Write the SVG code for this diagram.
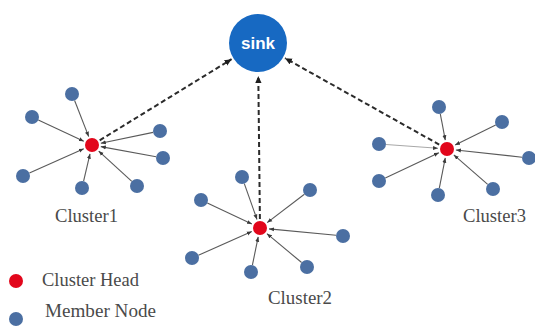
<svg xmlns="http://www.w3.org/2000/svg" width="535" height="329" viewBox="0 0 535 329">
<defs>
<style>
.member{fill:#4b6fa2}
.head{fill:#e2061b}
.sink{fill:#1769c2}
.lbl{font-family:"Liberation Serif","Times New Roman",serif;font-size:18px;fill:#4a4a4a}
.sinklbl{font-family:"Liberation Sans",Arial,sans-serif;font-size:17px;font-weight:bold;fill:#ffffff}
.link{stroke:#5a5a5a;stroke-width:1.1;fill:none;marker-end:url(#arr)}
.uplink{stroke:#2b2b2b;stroke-width:2;stroke-dasharray:5 3;fill:none;marker-end:url(#arrD)}
</style>
<marker id="arr" viewBox="0 0 10 10" refX="10" refY="5" markerWidth="5" markerHeight="5" markerUnits="userSpaceOnUse" orient="auto">
<path d="M0,1 L10,5 L0,9 z" fill="#3a3a3a"/>
</marker>
<marker id="arrD" viewBox="0 0 10 10" refX="10" refY="5" markerWidth="7" markerHeight="7" markerUnits="userSpaceOnUse" orient="auto">
<path d="M0,0.5 L10,5 L0,9.5 z" fill="#1e1e1e"/>
</marker>
</defs>
<rect width="535" height="329" fill="#ffffff"/>
<g id="connectors">
<line class="uplink" x1="99.7" y1="140.3" x2="231.6" y2="59.2"/>
<line class="uplink" x1="259.9" y1="219" x2="258.3" y2="76"/>
<line class="uplink" x1="439.2" y1="144.6" x2="285" y2="58.2"/>
<line class="link" x1="74.6" y1="100.5" x2="88.7" y2="136.6"/>
<line class="link" x1="38.3" y1="120" x2="83.8" y2="141.2"/>
<line class="link" x1="153.1" y1="132.4" x2="100.8" y2="143.2"/>
<line class="link" x1="156.1" y1="156.7" x2="100.8" y2="146.6"/>
<line class="link" x1="29.4" y1="173.1" x2="83.8" y2="148.7"/>
<line class="link" x1="83.6" y1="181.2" x2="90" y2="153.8"/>
<line class="link" x1="131.8" y1="181.3" x2="98.7" y2="151.1"/>
<line class="link" x1="244.3" y1="183.6" x2="257" y2="219.5"/>
<line class="link" x1="207.3" y1="203" x2="251.9" y2="224.1"/>
<line class="link" x1="304.4" y1="194.2" x2="267.2" y2="222.6"/>
<line class="link" x1="336" y1="235.3" x2="269" y2="228.9"/>
<line class="link" x1="198.4" y1="255.2" x2="251.8" y2="231.6"/>
<line class="link" x1="252.4" y1="265.1" x2="258.2" y2="236.8"/>
<line class="link" x1="301.6" y1="262.5" x2="266.9" y2="233.7"/>
<line class="link" x1="440.3" y1="113.9" x2="445.3" y2="140.2"/>
<line class="link" x1="495.7" y1="125.1" x2="455.1" y2="145"/>
<line class="link" x1="386" y1="144.5" x2="438" y2="148.3" style="stroke:#a8a8a8"/>
<line class="link" x1="522" y1="157.2" x2="455.9" y2="150"/>
<line class="link" x1="385.3" y1="178" x2="438.9" y2="152.8"/>
<line class="link" x1="439.3" y1="188.1" x2="445.3" y2="157.8"/>
<line class="link" x1="487.7" y1="184.4" x2="453.8" y2="154.9"/>
</g>
<g id="sink">
<circle class="sink" cx="258" cy="43" r="29"/>
<text class="sinklbl" x="258" y="49" text-anchor="middle">sink</text>
</g>
<g id="cluster1">
<circle class="head" cx="92" cy="145" r="7"/>
<circle class="member" cx="72" cy="94" r="7"/>
<circle class="member" cx="32" cy="117" r="7"/>
<circle class="member" cx="160" cy="131" r="7"/>
<circle class="member" cx="163" cy="158" r="7"/>
<circle class="member" cx="23" cy="176" r="7"/>
<circle class="member" cx="82" cy="188" r="7"/>
<circle class="member" cx="137" cy="186" r="7"/>
<text class="lbl" x="55" y="222" textLength="63" lengthAdjust="spacingAndGlyphs">Cluster1</text>
</g>
<g id="cluster2">
<circle class="head" cx="260" cy="228" r="7"/>
<circle class="member" cx="242" cy="177" r="7"/>
<circle class="member" cx="201" cy="200" r="7"/>
<circle class="member" cx="310" cy="190" r="7"/>
<circle class="member" cx="343" cy="236" r="7"/>
<circle class="member" cx="192" cy="258" r="7"/>
<circle class="member" cx="251" cy="272" r="7"/>
<circle class="member" cx="307" cy="267" r="7"/>
<text class="lbl" x="268" y="304" textLength="64" lengthAdjust="spacingAndGlyphs">Cluster2</text>
</g>
<g id="cluster3">
<circle class="head" cx="447" cy="149" r="7"/>
<circle class="member" cx="439" cy="107" r="7"/>
<circle class="member" cx="502" cy="122" r="7"/>
<circle class="member" cx="379" cy="144" r="7"/>
<circle class="member" cx="529" cy="158" r="7"/>
<circle class="member" cx="379" cy="181" r="7"/>
<circle class="member" cx="438" cy="195" r="7"/>
<circle class="member" cx="493" cy="189" r="7"/>
<text class="lbl" x="463" y="222" textLength="63" lengthAdjust="spacingAndGlyphs">Cluster3</text>
</g>
<g id="legend">
<circle class="head" cx="16" cy="281" r="7"/>
<text class="lbl" x="42" y="286" textLength="97" lengthAdjust="spacingAndGlyphs">Cluster Head</text>
<circle class="member" cx="16" cy="319" r="7"/>
<text class="lbl" x="45" y="317" textLength="111" lengthAdjust="spacingAndGlyphs">Member Node</text>
</g>
</svg>
